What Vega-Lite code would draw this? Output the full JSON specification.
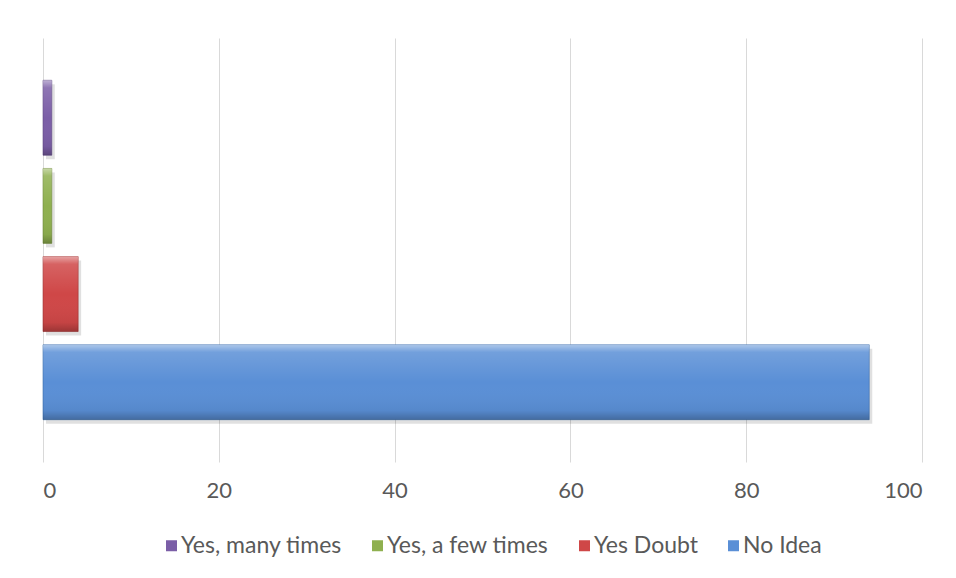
{
  "$schema": "https://vega.github.io/schema/vega-lite/v6.json",
  "width": 879,
  "height": 424,
  "autosize": {"type": "none"},
  "padding": {"left": 43, "top": 38, "right": 34, "bottom": 116},
  "background": "#ffffff",
  "config": {
    "view": {"stroke": null},
    "font": "Lato",
    "axis": {"labelFont": "Lato", "labelColor": "#595959"},
    "legend": {"labelFont": "Lato", "labelColor": "#595959"}
  },
  "data": {
    "values": [
      {"response": "Yes, many times", "percent": 1},
      {"response": "Yes, a few times", "percent": 1},
      {"response": "Yes Doubt", "percent": 4},
      {"response": "No Idea", "percent": 94}
    ]
  },
  "encoding": {
    "y": {
      "field": "response",
      "type": "nominal",
      "sort": ["Yes, many times", "Yes, a few times", "Yes Doubt", "No Idea"],
      "scale": {"paddingInner": 0.15, "paddingOuter": 0.48},
      "axis": null
    },
    "x": {
      "field": "percent",
      "type": "quantitative",
      "scale": {"domain": [0, 100], "nice": false},
      "axis": {
        "values": [0, 20, 40, 60, 80, 100],
        "title": null,
        "domain": false,
        "ticks": false,
        "grid": true,
        "gridColor": "#d9d9d9",
        "gridWidth": 1,
        "labelFontSize": 22,
        "labelPadding": 18
      }
    }
  },
  "layer": [
    {
      "mark": {"type": "bar", "color": "#000000", "opacity": 0.12, "xOffset": 3, "yOffset": 4}
    },
    {
      "mark": {"type": "bar", "strokeWidth": 1, "strokeOpacity": 0.6},
      "encoding": {
        "color": {
          "field": "response",
          "type": "nominal",
          "scale": {
            "domain": ["Yes, many times", "Yes, a few times", "Yes Doubt", "No Idea"],
            "range": ["#7b5ea7", "#8fb04f", "#cf4747", "#5a8fd6"]
          },
          "legend": {
            "title": null,
            "orient": "none",
            "direction": "horizontal",
            "legendX": 117,
            "legendY": 496,
            "symbolType": "square",
            "symbolSize": 121,
            "symbolStrokeWidth": 0,
            "labelFontSize": 23,
            "labelLimit": 400,
            "labelOffset": -2,
            "columnPadding": 24
          }
        },
        "stroke": {
          "field": "response",
          "type": "nominal",
          "scale": {
            "domain": ["Yes, many times", "Yes, a few times", "Yes Doubt", "No Idea"],
            "range": ["#5e4682", "#6f8a3a", "#9e3232", "#3a6aa6"]
          },
          "legend": null
        }
      }
    },
    {
      "mark": {
        "type": "bar",
        "fill": {
          "gradient": "linear",
          "x1": 0, "y1": 0, "x2": 0, "y2": 1,
          "stops": [
            {"offset": 0, "color": "rgba(255,255,255,0.5)"},
            {"offset": 0.1, "color": "rgba(255,255,255,0.15)"},
            {"offset": 0.5, "color": "rgba(255,255,255,0)"},
            {"offset": 0.88, "color": "rgba(0,0,0,0.05)"},
            {"offset": 1, "color": "rgba(0,0,0,0.25)"}
          ]
        }
      }
    }
  ]
}
